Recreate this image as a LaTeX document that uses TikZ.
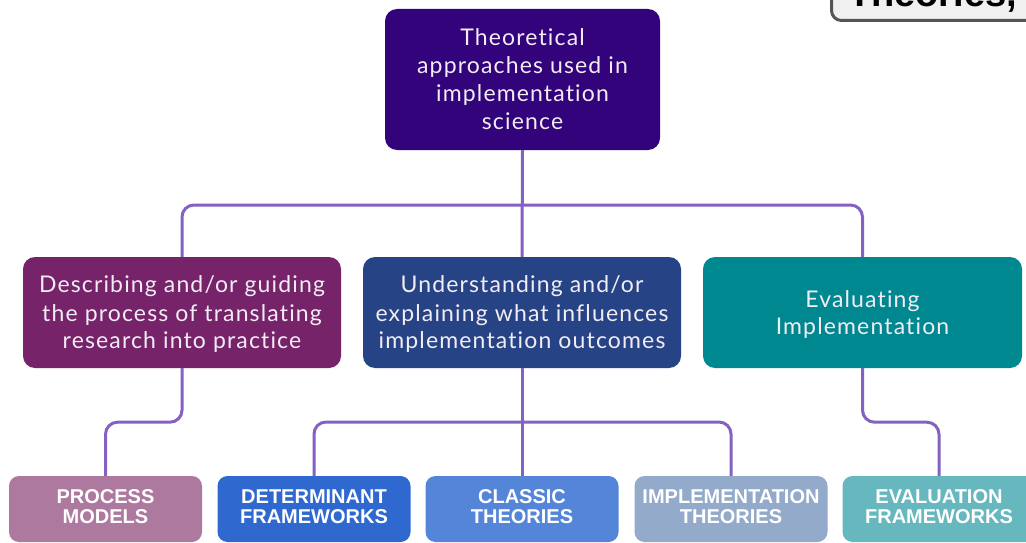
\documentclass[tikz,border=0pt]{standalone}
\usepackage{fontspec}
\setmainfont{Lato}[LetterSpace=5,Ligatures=NoCommon]
\newfontfamily\boldf{Liberation Sans}
\usetikzlibrary{positioning}
\definecolor{conn}{HTML}{8462C4}
\definecolor{ctop}{HTML}{32037A}
\definecolor{cm1}{HTML}{76236A}
\definecolor{cm2}{HTML}{264485}
\definecolor{cm3}{HTML}{008891}
\definecolor{cb1}{HTML}{AE799F}
\definecolor{cb2}{HTML}{2F68CF}
\definecolor{cb3}{HTML}{5585D9}
\definecolor{cb4}{HTML}{93AACB}
\definecolor{cb5}{HTML}{66B8BE}
\definecolor{txtl}{HTML}{F2ECF4}
\tikzset{
  box/.style={rounded corners=12pt, inner sep=0pt, align=center, text=txtl, font=\fontsize{23}{28}\selectfont},
  midbox/.style={box, minimum width=318pt, minimum height=111pt},
  botbox/.style={rounded corners=10pt, inner sep=0pt, align=center, text=white, minimum width=193pt, minimum height=66pt, font=\boldf\bfseries\fontsize{20}{20}\selectfont},
  link/.style={draw=conn, line width=3pt, rounded corners=12pt}
}
\begin{document}
\begin{tikzpicture}[x=1pt,y=-1pt]
\useasboundingbox (0,0) rectangle (1026,543);
\clip (0,0) rectangle (1026,543);
\fill[white] (0,0) rectangle (1026,543);
% partial box top right
\node[draw=black!67, line width=3pt, fill=black!6, rounded corners=10pt, minimum width=220pt, minimum height=60pt, anchor=south west, inner sep=0pt] (cut) at (830,22) {};
\node[anchor=base west, inner sep=0pt, font=\boldf\bfseries\fontsize{38}{40}\selectfont, text=black] (cuttext) at (848,7) {Theories,};
% nodes
\node[box, fill=ctop, minimum width=275pt, minimum height=141pt] (top) at (522.5,79.5) {Theoretical\\approaches used in\\implementation\\science};
\node[midbox, fill=cm1] (m1) at (182,312.5) {};
\node[midbox, fill=cm2] (m2) at (522,312.5) {};
\node[midbox, fill=cm3, minimum width=319pt] (m3) at (862.5,312.5) {};
\node[box, fill=none] (t1) at ([yshift=-2pt]m1.center) {Describing and/or guiding\\the process of translating\\research into practice};
\node[box, fill=none] (t2) at ([yshift=-2pt]m2.center) {Understanding and/or\\explaining what influences\\implementation outcomes};
\node[box, fill=none] (t3) at ([yshift=-2pt]m3.center) {Evaluating\\Implementation};
\node[botbox, fill=cb1] (b1) at (105.5,509) {};
\node[botbox, fill=cb2] (b2) at (314,509) {};
\node[botbox, fill=cb3] (b3) at (522,509) {};
\node[botbox, fill=cb4] (b4) at (731,509) {};
\node[botbox, fill=cb5] (b5) at (939,509) {};
\node[botbox, minimum height=0pt] (l1) at ([yshift=2pt]b1.center) {PROCESS\\MODELS};
\node[botbox, minimum height=0pt] (l2) at ([yshift=2pt]b2.center) {DETERMINANT\\FRAMEWORKS};
\node[botbox, minimum height=0pt] (l3) at ([yshift=2pt]b3.center) {CLASSIC\\THEORIES};
\node[botbox, minimum height=0pt] (l4) at ([yshift=2pt]b4.center) {IMPLEMENTATION\\THEORIES};
\node[botbox, minimum height=0pt] (l5) at ([yshift=2pt]b5.center) {EVALUATION\\FRAMEWORKS};
% connectors
\coordinate (j1) at (522,205);
\coordinate (j2) at (522,422);
\draw[link] (top.south) -- (m2.north);
\draw[link] (m1.north) |- (j1) -| (m3.north);
\draw[link] (m1.south) -- ++(0,54) -| (b1.north);
\draw[link] (m2.south) -- (b3.north);
\draw[link] (b2.north) |- (j2) -| (b4.north);
\draw[link] (m3.south) -- ++(0,54) -| (b5.north);
\end{tikzpicture}
\end{document}
